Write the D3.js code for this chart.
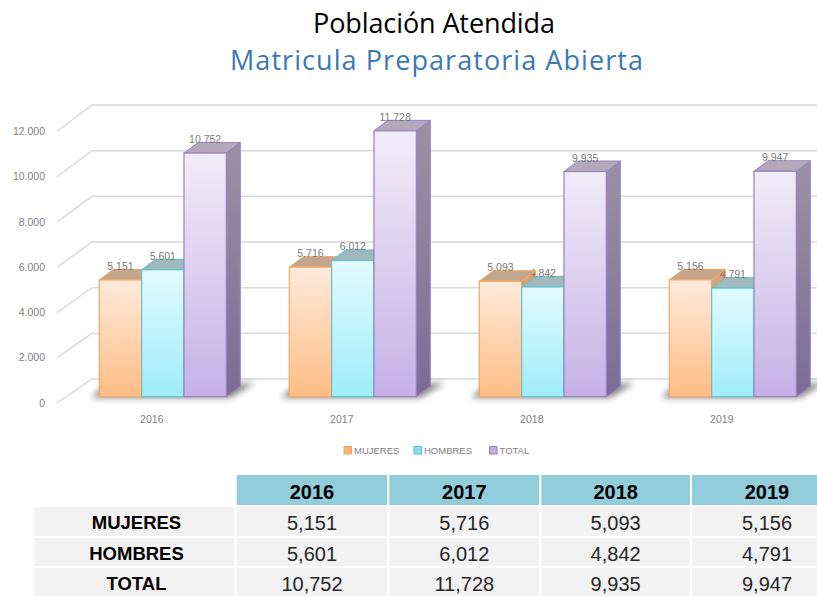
<!DOCTYPE html>
<html>
<head>
<meta charset="utf-8">
<script src="https://cdn.jsdelivr.net/npm/d3@7"></script>
<style>
  html, body { margin: 0; padding: 0; background: #ffffff; }
  svg { display: block; }
</style>
</head>
<body>
<script>
// ---------- DATA ----------
const categories = ["2016", "2017", "2018", "2019"];
const seriesNames = ["MUJERES", "HOMBRES", "TOTAL"];
const mujeres = [5151, 5716, 5093, 5156];
const hombres = [5601, 6012, 4842, 4791];
const total = [10752, 11728, 9935, 9947];
const yTicks = [0, 2000, 4000, 6000, 8000, 10000, 12000];
const titleLine1 = "Población Atendida";
const titleLine2 = "Matricula Preparatoria Abierta";

const seriesValues = [mujeres, hombres, total];

// ---------- STYLE ----------
const W = 817, H = 596;
const styles = {
  MUJERES: { top: "#ffeadb", bottom: "#ffbd84", stroke: "#f5a65b", cap: "#c4a68c", side1: "#d9a57a", side2: "#c98a55", legend: "#f7b27a" },
  HOMBRES: { top: "#e2fbff", bottom: "#9fecfb", stroke: "#5cc3d3", cap: "#9fb9bd", side1: "#86c4cf", side2: "#6fb3c0", legend: "#8ddff0" },
  TOTAL:   { top: "#f1ecf9", bottom: "#c6b1e6", stroke: "#9a80c2", cap: "#b3a9bb", side1: "#9b91a3", side2: "#7c6c96", legend: "#c3aee3" }
};
const depthX = 14, depthY = -10.5;

const svg = d3.select("body").append("svg").attr("width", W).attr("height", H);
const defs = svg.append("defs");
seriesNames.forEach((s, i) => {
  const st = styles[s];
  const g = defs.append("linearGradient").attr("id", "front" + i).attr("x1", 0).attr("y1", 0).attr("x2", 0).attr("y2", 1);
  g.append("stop").attr("offset", "0%").attr("stop-color", st.top);
  g.append("stop").attr("offset", "100%").attr("stop-color", st.bottom);
  const gs = defs.append("linearGradient").attr("id", "side" + i).attr("x1", 0).attr("y1", 0).attr("x2", 0).attr("y2", 1);
  gs.append("stop").attr("offset", "0%").attr("stop-color", st.side1);
  gs.append("stop").attr("offset", "100%").attr("stop-color", st.side2);
});
defs.append("filter").attr("id", "blur").attr("x", "-50%").attr("y", "-50%").attr("width", "200%").attr("height", "200%")
  .append("feGaussianBlur").attr("stdDeviation", 3);

// ---------- TITLE ----------
svg.append("text").attr("x", 434).attr("y", 33).attr("text-anchor", "middle")
  .style("font-family", "'Open Sans', sans-serif").style("font-size", "27px").attr("fill", "#000000")
  .attr("textLength", 242).attr("lengthAdjust", "spacing")
  .text(titleLine1);
svg.append("text").attr("x", 436.5).attr("y", 70).attr("text-anchor", "middle")
  .style("font-family", "'Open Sans', sans-serif").style("font-size", "27px").attr("fill", "#3b78b4")
  .attr("textLength", 413).attr("lengthAdjust", "spacing")
  .text(titleLine2);

// ---------- SCALES ----------
const yMax = 12000;
const yBar = d3.scaleLinear().domain([0, yMax]).range([396.7, 124.7]);
const yFront = d3.scaleLinear().domain([0, yMax]).range([403, 131.5]);
const yBack = d3.scaleLinear().domain([0, yMax]).range([379, 105]);
const x0 = d3.scaleBand().domain(categories).range([99.3, 796.3]).paddingInner(63 / 190).paddingOuter(0);
const x1 = d3.scaleBand().domain(seriesNames).range([0, x0.bandwidth()]).padding(0);
const xFrontWall = 57, xBackWall = 92;

const dotFmt = d3.formatLocale({ decimal: ",", thousands: ".", grouping: [3], currency: ["", ""] }).format(",d");
const commaFmt = d3.format(",d");

// ---------- GRIDLINES ----------
const grid = svg.append("g");
grid.selectAll("path").data(yTicks).join("path")
  .attr("d", t => `M${xFrontWall},${yFront(t)} L${xBackWall},${yBack(t)} L${W},${yBack(t)}`)
  .attr("fill", "none").attr("stroke", "#d9d9d9").attr("stroke-width", 1.5);

// Y axis labels
svg.append("g").selectAll("text").data(yTicks).join("text")
  .attr("x", 45).attr("y", t => yFront(t) + 3.5).attr("text-anchor", "end")
  .style("font-family", "'Liberation Sans', Arial, sans-serif").style("font-size", "10.5px").attr("fill", "#7f7f7f")
  .text(t => dotFmt(t));

// ---------- BARS ----------
const bars = svg.append("g");
categories.forEach((cat, ci) => {
  const items = seriesNames.map((s, si) => {
    const v = seriesValues[si][ci];
    const xl = x0(cat) + x1(s);
    const w = x1.bandwidth();
    return { s, si, v, xl, w, yTop: yBar(v), base: yBar(0) };
  });
  const g = bars.append("g");
  // floor shadow
  const gx0 = x0(cat), gx1 = x0(cat) + x0.bandwidth();
  const b0 = yBar(0);
  g.append("path")
    .attr("d", `M${gx0 - 8},${b0 + 1} L${gx1 + 4},${b0 + 1} L${gx1 + depthX + 14},${b0 + depthY - 3} L${gx0 + depthX - 6},${b0 + depthY - 3} Z`)
    .attr("fill", "#222").attr("opacity", 0.55).attr("filter", "url(#blur)");
  // side faces
  items.forEach(d => {
    const xr = d.xl + d.w;
    g.append("path")
      .attr("d", `M${xr},${d.base} L${xr},${d.yTop} L${xr + depthX},${d.yTop + depthY} L${xr + depthX},${d.base + depthY} Z`)
      .attr("fill", `url(#side${d.si})`).attr("stroke", styles[d.s].stroke).attr("stroke-width", 1);
  });
  // top faces (shorter first) with labels
  items.slice().sort((a, b) => a.v - b.v).forEach(d => {
    const xr = d.xl + d.w;
    g.append("path")
      .attr("d", `M${d.xl},${d.yTop} L${xr},${d.yTop} L${xr + depthX},${d.yTop + depthY} L${d.xl + depthX},${d.yTop + depthY} Z`)
      .attr("fill", styles[d.s].cap).attr("stroke", styles[d.s].stroke).attr("stroke-width", 1);
    g.append("text")
      .attr("x", d.xl + d.w / 2).attr("y", d.yTop + depthY + 0.5).attr("text-anchor", "middle")
      .style("font-family", "'Liberation Sans', Arial, sans-serif").style("font-size", "10.5px").attr("fill", "#7a7a7a")
      .text(dotFmt(d.v));
  });
  // front faces
  items.forEach(d => {
    g.append("rect")
      .attr("x", d.xl).attr("y", d.yTop).attr("width", d.w).attr("height", d.base - d.yTop)
      .attr("fill", `url(#front${d.si})`).attr("stroke", styles[d.s].stroke).attr("stroke-width", 1.2);
  });
});

// X axis labels
svg.append("g").selectAll("text").data(categories).join("text")
  .attr("x", c => x0(c) + x0.bandwidth() / 2 - 11).attr("y", 423).attr("text-anchor", "middle")
  .style("font-family", "'Liberation Sans', Arial, sans-serif").style("font-size", "10.5px").attr("fill", "#7f7f7f")
  .text(c => c);

// ---------- LEGEND ----------
const legendX = [344, 414, 489.5];
const legend = svg.append("g");
seriesNames.forEach((s, i) => {
  legend.append("rect").attr("x", legendX[i]).attr("y", 446.5).attr("width", 7.5).attr("height", 7.5)
    .attr("fill", styles[s].legend).attr("stroke", styles[s].stroke).attr("stroke-width", 1);
  legend.append("text").attr("x", legendX[i] + 10).attr("y", 454)
    .style("font-family", "'Liberation Sans', Arial, sans-serif").style("font-size", "9.5px").attr("fill", "#808080")
    .text(s);
});

// ---------- TABLE ----------
const table = svg.append("g");
const colX = [235.7, 388.3, 540.3, 691, 843];
const rowY = [474, 506, 537, 567, 598];
const labelColX = 33.3;
// header
categories.forEach((c, i) => {
  table.append("rect").attr("x", colX[i]).attr("y", rowY[0]).attr("width", colX[i + 1] - colX[i]).attr("height", rowY[1] - rowY[0])
    .attr("fill", "#92cddc").attr("stroke", "#ffffff").attr("stroke-width", 2);
  table.append("text").attr("x", (colX[i] + colX[i + 1]) / 2).attr("y", rowY[0] + 24.5).attr("text-anchor", "middle")
    .style("font-family", "'Liberation Sans', Arial, sans-serif").style("font-weight", "bold").style("font-size", "20px")
    .attr("fill", "#000").text(c);
});
// rows
seriesNames.forEach((s, r) => {
  const y0 = rowY[r + 1], y1 = rowY[r + 2];
  table.append("rect").attr("x", labelColX).attr("y", y0).attr("width", colX[0] - labelColX).attr("height", y1 - y0)
    .attr("fill", "#f2f2f2").attr("stroke", "#ffffff").attr("stroke-width", 2);
  table.append("text").attr("x", (labelColX + colX[0]) / 2 + 2).attr("y", y0 + 23).attr("text-anchor", "middle")
    .style("font-family", "'Liberation Sans', Arial, sans-serif").style("font-weight", "bold").style("font-size", "18.5px")
    .attr("fill", "#000").text(s);
  categories.forEach((c, i) => {
    table.append("rect").attr("x", colX[i]).attr("y", y0).attr("width", colX[i + 1] - colX[i]).attr("height", y1 - y0)
      .attr("fill", "#f2f2f2").attr("stroke", "#ffffff").attr("stroke-width", 2);
    table.append("text").attr("x", (colX[i] + colX[i + 1]) / 2).attr("y", y0 + 23.5).attr("text-anchor", "middle")
      .style("font-family", "'Liberation Sans', Arial, sans-serif").style("font-size", "20px")
      .attr("fill", "#262626").text(commaFmt(seriesValues[r][i]));
  });
});
</script>
</body>
</html>
